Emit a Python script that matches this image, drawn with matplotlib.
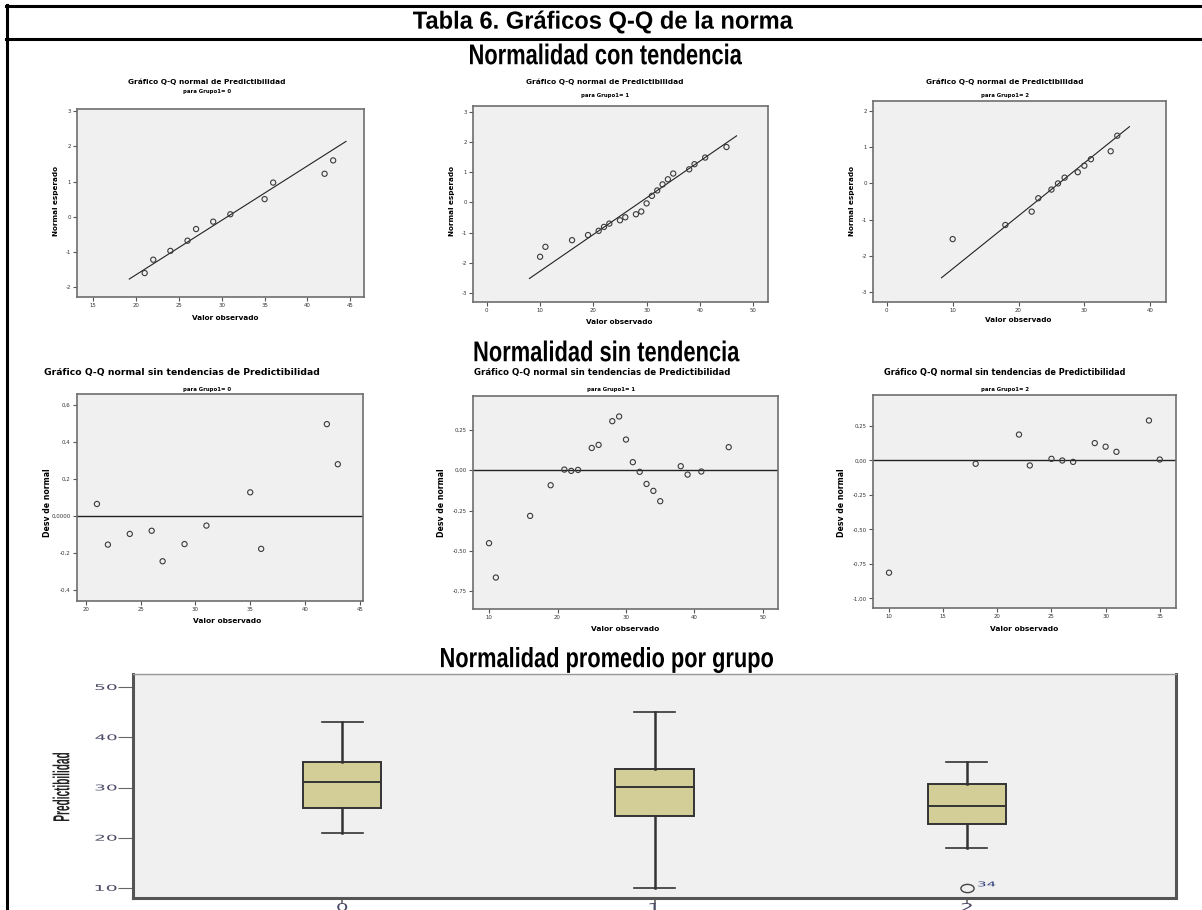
import matplotlib
matplotlib.use("Agg")
import matplotlib.pyplot as plt
from matplotlib.lines import Line2D
from matplotlib.path import Path
from matplotlib.patches import PathPatch
from matplotlib.textpath import TextPath
from matplotlib.font_manager import FontProperties
from matplotlib.transforms import Affine2D, IdentityTransform

plt.rcParams['axes.unicode_minus'] = False

W, H = 1202, 910
SANS = ['Liberation Sans', 'DejaVu Sans']

# ---------------- data ----------------
# Q-Q normal (con tendencia), one list per group
qq0_x = [21, 22, 24, 26, 27, 29, 31, 35, 36, 42, 43]
qq0_y = [-1.60, -1.22, -0.97, -0.68, -0.35, -0.14, 0.07, 0.50, 0.97, 1.22, 1.60]
qq1_x = [10, 11, 16, 19, 21, 22, 23, 25, 26, 28, 29, 30, 31, 32, 33, 34, 35, 38, 39, 41, 45]
qq1_y = [-1.80, -1.47, -1.25, -1.08, -0.94, -0.81, -0.70, -0.59, -0.49, -0.39, -0.30,
         -0.03, 0.22, 0.40, 0.60, 0.77, 0.96, 1.10, 1.27, 1.49, 1.84]
qq2_x = [10, 18, 22, 23, 25, 26, 27, 29, 30, 31, 34, 35]
qq2_y = [-1.54, -1.15, -0.78, -0.41, -0.17, 0.00, 0.16, 0.31, 0.49, 0.67, 0.89, 1.32]

# reference line end points
line0_x, line0_y = [19.2, 44.5], [-1.77, 2.14]
line1_x, line1_y = [8.0, 46.9], [-2.52, 2.21]
line2_x, line2_y = [8.3, 36.85], [-2.61, 1.57]

# detrended Q-Q (sin tendencia)
dt0_y = [0.065, -0.155, -0.097, -0.080, -0.245, -0.152, -0.052, 0.128, -0.178, 0.497, 0.280]
dt1_y = [-0.452, -0.665, -0.283, -0.093, 0.004, -0.004, 0.002, 0.138, 0.157, 0.304, 0.333,
         0.190, 0.050, -0.010, -0.085, -0.128, -0.192, 0.025, -0.027, -0.008, 0.143]
dt2_y = [-0.814, -0.024, 0.188, -0.036, 0.012, 0.000, -0.010, 0.126, 0.100, 0.063, 0.290, 0.007]

# box plot by group
groups = ['0', '1', '2']
box_whislo = [21, 10, 18]
box_q1 = [26, 24.3, 22.75]
box_med = [31, 30.2, 26.25]
box_q3 = [35, 33.75, 30.7]
box_whishi = [43, 45, 35]
box_fliers = [[], [], [10]]
flier_ids = [[], [], ['34']]

fig = plt.figure(figsize=(W / 100, H / 100), dpi=100)


def px_text(x, y, s, **kw):
    fig.text(x / W, 1 - y / H, s, ha='center', va='center', **kw)


def stretched(s, cx, cy, w, h, rot=0, color='#444444', weight='normal', family=None):
    # text squeezed into a w x h pixel box (cx, cy in display coords)
    tp = TextPath((0, 0), s, size=10, prop=FontProperties(family=family or SANS, weight=weight))
    bb = tp.get_extents()
    tr = (Affine2D().translate(-(bb.x0 + bb.x1) / 2, -(bb.y0 + bb.y1) / 2)
          .scale(w / bb.width, h / bb.height).rotate_deg(rot).translate(cx, cy))
    fig.add_artist(PathPatch(tr.transform_path(tp), transform=IdentityTransform(),
                             facecolor=color, edgecolor='none'))


def panel(rect, xlim, ylim, xticks, yticks, ylabels=None):
    x0, y0, x1, y1 = rect
    ax = fig.add_axes([x0 / W, 1 - y1 / H, (x1 - x0) / W, (y1 - y0) / H])
    ax.set_facecolor('#f0f0f0')
    ax.set_xlim(xlim)
    ax.set_ylim(ylim)
    ax.set_xticks(xticks)
    ax.set_yticks(yticks)
    if ylabels:
        ax.set_yticklabels(ylabels)
    for sp in ax.spines.values():
        sp.set_color('#6e6e6e')
        sp.set_linewidth(1.2)
    ax.tick_params(direction='out', length=3, width=0.8, colors='#555555',
                   labelsize=3.9, pad=1.5, labelcolor='#333333')
    return ax


# ---------------- table frame ----------------
for yy in (6, 39):
    fig.add_artist(Line2D([6 / W, 1], [1 - yy / H] * 2, color='black', lw=2.2,
                          transform=fig.transFigure))
fig.add_artist(Line2D([7 / W] * 2, [1 - 5 / H, 0], color='black', lw=2.2,
                      transform=fig.transFigure))

# condensed bold headings
stretched('Tabla 6. Gráficos Q-Q de la norma', 603, H - 22, 380, 23, color='black', weight='bold')
stretched('Normalidad con tendencia', 606, H - 54, 272, 21, color='black', weight='bold')
stretched('Normalidad sin tendencia', 607, H - 351, 265, 21, color='black', weight='bold')
stretched('Normalidad promedio por grupo', 607, H - 660, 332, 26, color='black', weight='bold')

# ---------------- row 1: Q-Q normal ----------------
qq_sets = [(qq0_x, qq0_y, line0_x, line0_y), (qq1_x, qq1_y, line1_x, line1_y),
           (qq2_x, qq2_y, line2_x, line2_y)]
qq_rects = [(77, 109, 364, 297), (473, 106, 768, 302), (873, 101, 1166, 302)]
qq_xlims = [(13.1, 46.6), (-2.6, 52.8), (-2.1, 42.4)]
qq_ylims = [(-2.28, 3.06), (-3.3, 3.2), (-3.28, 2.28)]
qq_xticks = [range(15, 50, 5), range(0, 60, 10), range(0, 50, 10)]
qq_yticks = [range(-2, 4), range(-3, 4), range(-3, 3)]
qq_title_x = [207, 605, 1005]
qq_sub_y = [92, 95, 95]
qq_ylab_x = [56, 452, 852]
qq_xlab_x = [225, 619, 1018]
qq_xlab_y = [318, 322, 320]

for i, (xs, ys, lx, ly) in enumerate(qq_sets):
    ax = panel(qq_rects[i], qq_xlims[i], qq_ylims[i], qq_xticks[i], qq_yticks[i])
    ax.plot(lx, ly, color='#222222', lw=0.8)
    ax.scatter(xs, ys, s=14, facecolors='none', edgecolors='#3a3a3a', linewidths=0.8, zorder=3)
    px_text(qq_title_x[i], 82, 'Gráfico Q-Q normal de Predictibilidad', fontsize=5.3, fontweight='bold')
    px_text(qq_title_x[i], qq_sub_y[i], 'para Grupo1= %s' % groups[i], fontsize=3.9, fontweight='bold')
    px_text(qq_ylab_x[i], 201, 'Normal esperado', fontsize=5.2, fontweight='bold', rotation=90)
    px_text(qq_xlab_x[i], qq_xlab_y[i], 'Valor observado', fontsize=5.2, fontweight='bold')

# ---------------- row 2: detrended ----------------
dt_sets = [(qq0_x, dt0_y), (qq1_x, dt1_y), (qq2_x, dt2_y)]
dt_rects = [(77, 394, 363, 601), (473, 396, 778, 609), (873, 395, 1176, 608)]
dt_xlims = [(19.18, 45.3), (7.66, 52.2), (8.52, 36.5)]
dt_ylims = [(-0.46, 0.66), (-0.86, 0.46), (-1.07, 0.475)]
dt_xticks = [range(20, 50, 5), range(10, 60, 10), range(10, 40, 5)]
dt_yticks = [[-0.4, -0.2, 0, 0.2, 0.4, 0.6], [-0.75, -0.5, -0.25, 0, 0.25],
             [-1.0, -0.75, -0.5, -0.25, 0, 0.25]]
dt_ylabels = [['-0,4', '-0,2', '0,0000', '0,2', '0,4', '0,6'],
              ['-0,75', '-0,50', '-0,25', '0,00', '0,25'],
              ['-1,00', '-0,75', '-0,50', '-0,25', '0,00', '0,25']]
dt_title_x = [182, 602, 1005]
dt_title_fs = [6.7, 6.2, 5.9]
dt_sub_x = [207, 611, 1005]
dt_ylab_x = [47, 442, 842]
dt_xlab_x = [227, 625, 1024]
dt_xlab_y = [621, 629, 629]

for i, (xs, ys) in enumerate(dt_sets):
    ax = panel(dt_rects[i], dt_xlims[i], dt_ylims[i], dt_xticks[i], dt_yticks[i], dt_ylabels[i])
    ax.axhline(0, color='#222222', lw=1.0)
    ax.scatter(xs, ys, s=14, facecolors='none', edgecolors='#3a3a3a', linewidths=0.8, zorder=3)
    px_text(dt_title_x[i], 373, 'Gráfico Q-Q normal sin tendencias de Predictibilidad',
            fontsize=dt_title_fs[i], fontweight='bold')
    px_text(dt_sub_x[i], 389, 'para Grupo1= %s' % groups[i], fontsize=3.9, fontweight='bold')
    px_text(dt_ylab_x[i], 503, 'Desv de normal', fontsize=5.6, fontweight='bold', rotation=90)
    px_text(dt_xlab_x[i], dt_xlab_y[i], 'Valor observado', fontsize=5.3, fontweight='bold')

# ---------------- row 3: box plot ----------------
bx0, by0, bx1, by1 = 133, 674, 1176, 898
axb = fig.add_axes([bx0 / W, 1 - by1 / H, (bx1 - bx0) / W, (by1 - by0) / H])
axb.set_facecolor('#f0f0f0')
stats = []
for i in range(len(groups)):
    stats.append(dict(whislo=box_whislo[i], q1=box_q1[i], med=box_med[i], q3=box_q3[i],
                      whishi=box_whishi[i], fliers=box_fliers[i], label=groups[i]))
ellipse = Path.unit_circle().transformed(Affine2D().scale(1.6, 1.0))
axb.bxp(stats, positions=[0, 1, 2], widths=0.25, capwidths=0.13, patch_artist=True,
        boxprops=dict(facecolor='#d3ce98', edgecolor='#333333', linewidth=1.4),
        medianprops=dict(color='#333333', linewidth=1.4),
        whiskerprops=dict(color='#333333', linewidth=1.8),
        capprops=dict(color='#333333', linewidth=1.2),
        flierprops=dict(marker=ellipse, markersize=9.5, markerfacecolor='none',
                        markeredgecolor='#444444', markeredgewidth=1.0))
axb.set_xlim(-0.67, 2.67)
axb.set_ylim(8.0, 52.6)
yt = [10, 20, 30, 40, 50]
axb.set_yticks(yt)
axb.set_yticklabels([''] * len(yt))
axb.set_xticks([0, 1, 2])
axb.set_xticklabels([''] * 3)
axb.tick_params(axis='y', direction='out', length=11, width=0.8, colors='#666666')
axb.tick_params(axis='x', direction='out', length=4, width=1.2, colors='#666666')
for side in ('left', 'bottom', 'right'):
    axb.spines[side].set_color('#555555')
    axb.spines[side].set_linewidth(2.2)
axb.spines['top'].set_color('#999999')
axb.spines['top'].set_linewidth(1.0)

# stretched tick labels, like the SPSS export
for v in yt:
    _, dy = axb.transData.transform((0, v))
    stretched(str(v), 106, dy, 21, 6, color='#4a4a66', family=['DejaVu Sans'])
for i, g in enumerate(groups):
    dx, _ = axb.transData.transform((i, 0))
    stretched(g, dx, H - 907, 10, 8, color='#4a4a66', family=['DejaVu Sans'])
    for fv, fid in zip(box_fliers[i], flier_ids[i]):
        fx_, fy_ = axb.transData.transform((i, fv))
        stretched(fid, fx_ + 20, fy_ + 4, 17, 5, color='#2b3a7a', family=['DejaVu Sans'])
stretched('Predictibilidad', 61, H - 787, 68, 17, rot=90, color='#222222', weight='bold')

fig.savefig('out.png', dpi=100, facecolor='white')
